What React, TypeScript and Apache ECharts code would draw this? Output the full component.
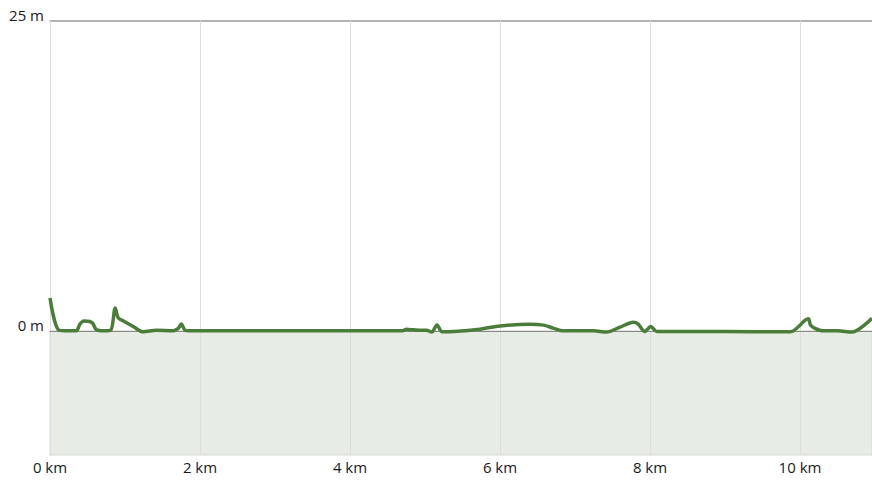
import React, { useEffect, useRef } from "react";
import * as echarts from "echarts";

const distanceKm = [
  0, 0.12, 0.25, 0.35, 0.4, 0.45, 0.53, 0.57, 0.62, 0.72, 0.81, 0.87, 0.91, 0.98,
  1.11, 1.24, 1.42, 1.64, 1.71, 1.75, 1.8, 1.85, 2.5, 3.5, 4.7, 4.75, 4.85, 4.95,
  5.02, 5.09, 5.16, 5.23, 5.73, 6.0, 6.4, 6.58, 6.71, 6.84, 7.0, 7.25, 7.42, 7.6,
  7.78, 7.84, 7.93, 8.01, 8.09, 8.18, 9.0, 9.87, 10.11, 10.14, 10.2, 10.31, 10.5,
  10.69, 10.96,
];
const elevationM = [
  2.65, 0.05, 0, 0, 0.55, 0.8, 0.75, 0.6, 0.08, 0, 0.05, 1.85, 1.05, 0.8,
  0.35, -0.08, 0.05, 0, 0.2, 0.56, 0.05, 0, 0, 0, 0, 0.12, 0.08, 0.05,
  0.05, -0.1, 0.48, -0.08, 0.13, 0.4, 0.54, 0.46, 0.22, 0, 0, 0, -0.1, 0.3,
  0.7, 0.56, -0.05, 0.35, -0.05, -0.05, -0.05, -0.08, 0.97, 0.48, 0.2, 0, 0,
  -0.1, 1.02,
];
const yLabelValues = [0, 25];
const xMaxKm = 10.96;
const yMin = -10;
const yMax = 25;

export default function App() {
  const ref = useRef<HTMLDivElement>(null);
  useEffect(() => {
    if (!ref.current) return;
    const chart = echarts.init(ref.current, undefined, { renderer: "svg" });
    const font = "'Open Sans', sans-serif";
    chart.setOption({
      animation: false,
      grid: { left: 50, right: 0, top: 20.5, bottom: 27, containLabel: false },
      xAxis: [
        {
          type: "value",
          min: 0,
          max: xMaxKm,
          interval: 2,
          z: 2,
          axisLine: { show: true, lineStyle: { color: "#888", width: 1 } },
          axisTick: { show: false },
          axisLabel: {
            showMaxLabel: false,
            color: "#1a1a1a",
            fontFamily: font,
            fontSize: 15,
            margin: 4,
            formatter: (v: number) => `${v} km`,
          },
          splitLine: { show: true, lineStyle: { color: "#dddddd", width: 1 } },
        },
        {
          type: "value",
          position: "top",
          min: 0,
          max: xMaxKm,
          axisLine: { show: true, lineStyle: { color: "#999", width: 1.5 } },
          axisTick: { show: false },
          axisLabel: { show: false },
          splitLine: { show: false },
        },
      ],
      yAxis: {
        type: "value",
        min: yMin,
        max: yMax,
        interval: 5,
        axisLine: { show: true, lineStyle: { color: "#777", width: 1 } },
        axisTick: { show: false },
        splitLine: { show: false },
        axisLabel: {
          color: "#1a1a1a",
          fontFamily: font,
          fontSize: 15,
          margin: 6,
          verticalAlign: "bottom",
          lineHeight: 12,
          formatter: (v: number) => (yLabelValues.includes(v) ? `${v} m` : ""),
        },
      },
      series: [
        {
          type: "line",
          data: [],
          z: 1,
          silent: true,
          markArea: {
            silent: true,
            itemStyle: { color: "#e7ece4", borderColor: "#d6dcd2", borderWidth: 1 },
            data: [[{ yAxis: yMin }, { yAxis: 0 }]],
          },
        },
        {
          type: "line",
          z: 3,
          data: distanceKm.map((d, i) => [d, elevationM[i]]),
          showSymbol: false,
          smooth: 0.3,
          lineStyle: { color: "#4a7d39", width: 3.5 },
        },
      ],
    });
    return () => chart.dispose();
  }, []);
  return (
    <div
      ref={ref}
      style={{ position: "fixed", left: 0, top: 0, width: 872, height: 482, background: "#fff" }}
    />
  );
}
